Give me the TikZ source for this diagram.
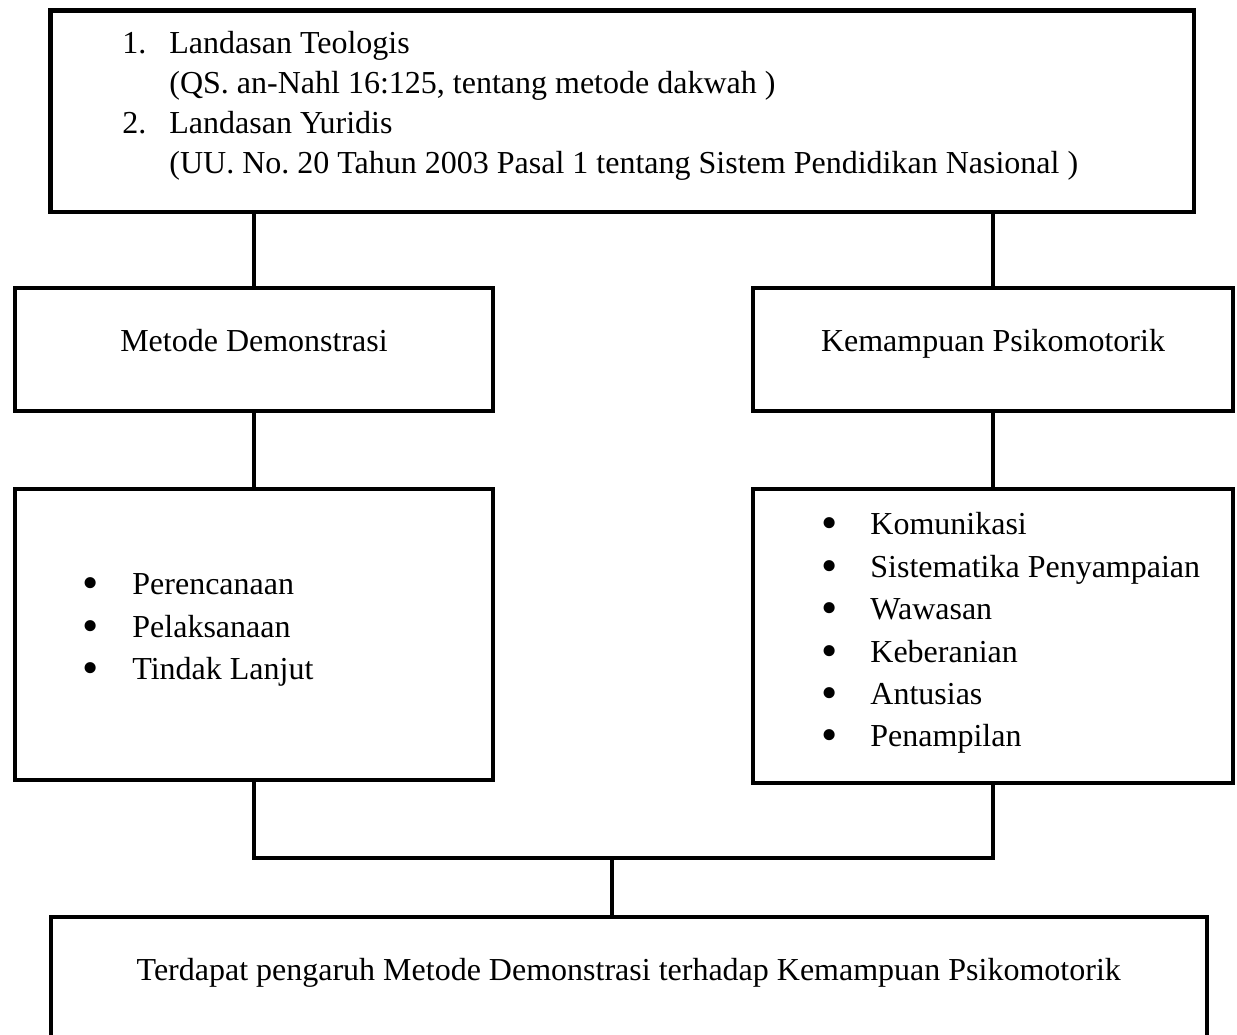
\documentclass[tikz,border=0pt]{standalone}
\usepackage{fontspec}
\setmainfont{Liberation Serif}
\frenchspacing
\newcommand{\butir}{\raisebox{-2pt}{\scalebox{1.45}{\textbullet}}}

\begin{document}
\begin{tikzpicture}[x=0.5pt, y=-0.5pt, font=\fontsize{16}{20}\selectfont,
    box/.style={draw, line width=2pt, inner sep=0pt},
    txt/.style={inner sep=0pt, anchor=base west},
    dot/.style={inner sep=0pt, anchor=base},
    link/.style={line width=1.6pt}]
  \useasboundingbox (0,0) rectangle (1237,1034);

  \node[box, line width=2.4pt, minimum width=571.75pt, minimum height=100.75pt] (landasan) at (622.25,111.25) {};
  \node[txt] (n1) at (122,53) {1.};
  \node[txt] (teologis) at (169,53) {Landasan Teologis};
  \node[txt] (qs) at (169,93) {(QS. an-Nahl 16:125, tentang metode dakwah )};
  \node[txt] (n2) at (122,133) {2.};
  \node[txt] (yuridis) at (169,133) {Landasan Yuridis};
  \node[txt] (uu) at (169,173) {(UU. No. 20 Tahun 2003 Pasal 1 tentang Sistem Pendidikan Nasional )};

  \node[box, minimum width=239pt, minimum height=61.25pt] (demonstrasi) at (254,349.25) {};
  \node[dot] (tdemonstrasi) at (254,351) {Metode Demonstrasi};
  \node[box, minimum width=240pt, minimum height=61.25pt] (psikomotorik) at (993,349.25) {};
  \node[dot] (tpsikomotorik) at (993,351) {Kemampuan Psikomotorik};

  \node[box, minimum width=239pt, minimum height=145.75pt] (langkah) at (254,634.25) {};
  \node[dot] (b1) at (91,594) {\butir};
  \node[txt] (perencanaan) at (132,594) {Perencanaan};
  \node[dot] (b2) at (91,637) {\butir};
  \node[txt] (pelaksanaan) at (132,637) {Pelaksanaan};
  \node[dot] (b3) at (91,679) {\butir};
  \node[txt] (lanjut) at (132,679) {Tindak Lanjut};

  \node[box, minimum width=240pt, minimum height=147.25pt] (indikator) at (993,635.75) {};
  \node[dot] (c1) at (830,534) {\butir};
  \node[txt] (komunikasi) at (870,534) {Komunikasi};
  \node[dot] (c2) at (830,577) {\butir};
  \node[txt] (sistematika) at (870,577) {Sistematika Penyampaian};
  \node[dot] (c3) at (830,619) {\butir};
  \node[txt] (wawasan) at (870,619) {Wawasan};
  \node[dot] (c4) at (830,662) {\butir};
  \node[txt] (keberanian) at (870,662) {Keberanian};
  \node[dot] (c5) at (830,704) {\butir};
  \node[txt] (antusias) at (870,704) {Antusias};
  \node[dot] (c6) at (830,746) {\butir};
  \node[txt] (penampilan) at (870,746) {Penampilan};

  \node[box, minimum width=578.25pt, minimum height=71.5pt] (hasil) at (628.75,988.5) {};
  \node[dot] (thasil) at (628.75,980) {Terdapat pengaruh Metode Demonstrasi terhadap Kemampuan Psikomotorik};

  \draw[link] (demonstrasi.north) -- (demonstrasi.north |- landasan.south);
  \draw[link] (psikomotorik.north) -- (psikomotorik.north |- landasan.south);
  \draw[link] (demonstrasi.south) -- (langkah.north);
  \draw[link] (psikomotorik.south) -- (indikator.north);

  \coordinate (cabang) at (612,858);
  \draw[link] (langkah.south) |- (cabang) -| (indikator.south);
  \draw[link] (cabang) -- (cabang |- hasil.north);
\end{tikzpicture}
\end{document}
